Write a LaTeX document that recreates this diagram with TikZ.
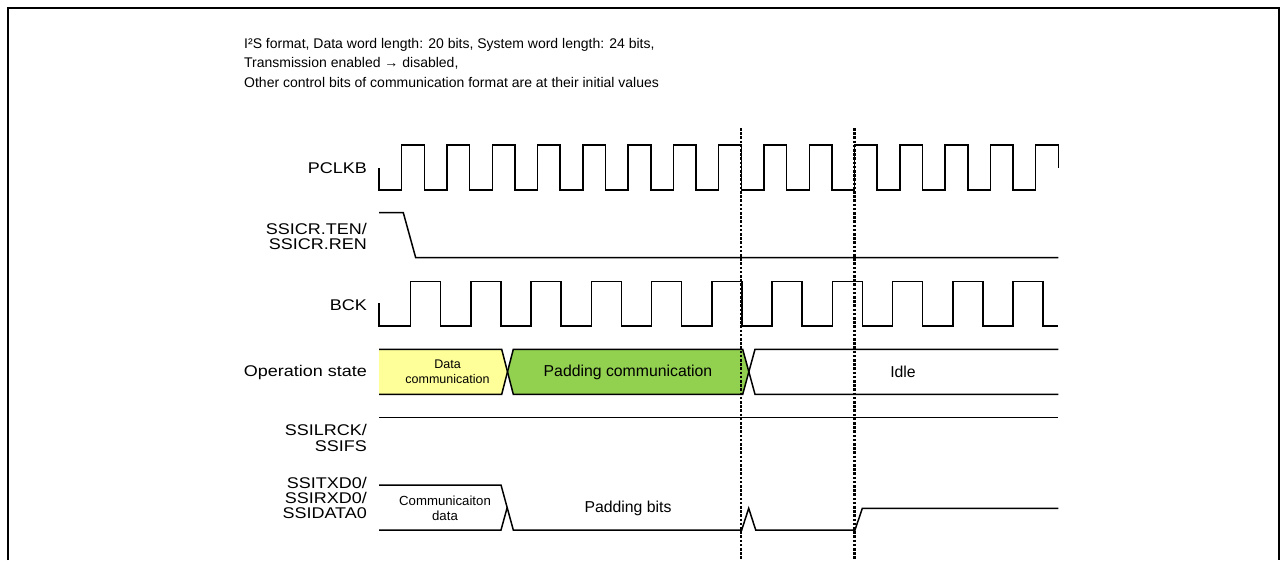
\documentclass[tikz,border=0pt]{standalone}
\usepackage{fontspec}
\setmainfont{Liberation Sans}
\newfontfamily\labelfont[FakeStretch=1.16]{Liberation Sans}
\definecolor{datayellow}{HTML}{FFFF99}
\definecolor{padgreen}{HTML}{92D050}
\tikzset{
  wave/.style={line width=1.5pt, line join=miter},
  siglabel/.style={anchor=east, align=right, font=\labelfont\fontsize{15.5}{15.2}\selectfont, inner sep=0pt},
  bandtext/.style={align=center, inner sep=0pt, font=\fontsize{15.8}{16}\selectfont},
  smalltext/.style={align=center, inner sep=0pt, font=\fontsize{12.5}{15}\selectfont},
  marker/.style={line width=2.6pt, dash pattern=on 2.6pt off 1.6pt},
  frameline/.style={line width=2.6pt}
}
\begin{document}
\begin{tikzpicture}[x=1pt,y=-1pt]
\useasboundingbox (0,0) rectangle (1282,560);
% frame
\draw[frameline] (8,560) -- (8,8) -- (1279,8) -- (1279,560);
% header
\node[anchor=north west, align=left, inner sep=0pt, font=\fontsize{14}{19.5}\selectfont] (hdr) at (244,38)
 {I²S format, Data word length: 20 bits, System word length: 24 bits,\\
  Transmission enabled → disabled,\\
  Other control bits of communication format are at their initial values};
% labels
\node[siglabel] (lpclk) at (367,168) {PCLKB};
\node[siglabel] (lten) at (367,236.5) {SSICR.TEN/\\SSICR.REN};
\node[siglabel] (lbck) at (367,305) {BCK};
\node[siglabel] (lop) at (367,372) {Operation state};
\node[siglabel] (llrck) at (367,438) {SSILRCK/\\SSIFS};
\node[siglabel] (ltxd) at (367,498) {SSITXD0/\\SSIRXD0/\\SSIDATA0};
% PCLKB
\draw[wave] (379,168) -- (379,190)
  \foreach \k in {0,...,13} { -- ({401.7+45.29*\k},190) -- ({401.7+45.29*\k},145) -- ({424.3+45.29*\k},145) -- ({424.3+45.29*\k},190) }
  -- (1035.7,190) -- (1035.7,145) -- (1058.3,145) -- (1058.3,168);
% SSICR.TEN
\draw[wave] (379,212.7) -- (403.3,212.7) -- (415.7,257.7) -- (1058.3,257.7);
% BCK
\draw[wave] (379,303.3) -- (379,326)
  \foreach \k in {0,...,10} { -- ({410.5+60.25*\k},326) -- ({410.5+60.25*\k},281.7) -- ({440.6+60.25*\k},281.7) -- ({440.6+60.25*\k},326) }
  -- (1058.3,326);
% Operation state
\fill[datayellow] (379,349.3) -- (501.7,349.3) -- (507.5,371.8) -- (501.7,394.3) -- (379,394.3) -- cycle;
\fill[padgreen] (513.3,349.3) -- (742.7,349.3) -- (748.8,371.8) -- (742.7,394.3) -- (513.3,394.3) -- (507.5,371.8) -- cycle;
\draw[wave] (379,349.3) -- (501.7,349.3) -- (513.3,394.3) -- (742.7,394.3) -- (755,349.3) -- (1058.3,349.3);
\draw[wave] (379,394.3) -- (501.7,394.3) -- (513.3,349.3) -- (742.7,349.3) -- (755,394.3) -- (1058.3,394.3);
\node[smalltext] (tdata) at (447.5,371.5) {Data\\communication};
\node[bandtext] (tpad) at (628,372) {Padding communication};
\node[bandtext] (tidle) at (903,372) {Idle};
% SSILRCK
\draw[wave] (379,417.7) -- (1058.3,417.7);
% SSITXD0
\draw[wave] (379,485) -- (501,485) -- (513.3,530) -- (741.7,530) -- (748.7,508.3) -- (755.7,530) -- (855,530) -- (862.3,508.3) -- (1058.3,508.3);
\draw[wave] (379,530) -- (501,530) -- (507.2,507.5);
\node[smalltext, font=\fontsize{13.2}{15}\selectfont] (tcomm) at (445,508.5) {Communicaiton\\data};
\node[bandtext] (tbits) at (628,508.3) {Padding bits};
% markers
\coordinate (m1top) at (741,128);
\coordinate (m1bot) at (741,560);
\coordinate (m2top) at (854.3,128);
\coordinate (m2bot) at (854.3,560);
\draw[marker] (m1top) -- (m1bot);
\draw[marker] (m2top) -- (m2bot);
\end{tikzpicture}
\end{document}
